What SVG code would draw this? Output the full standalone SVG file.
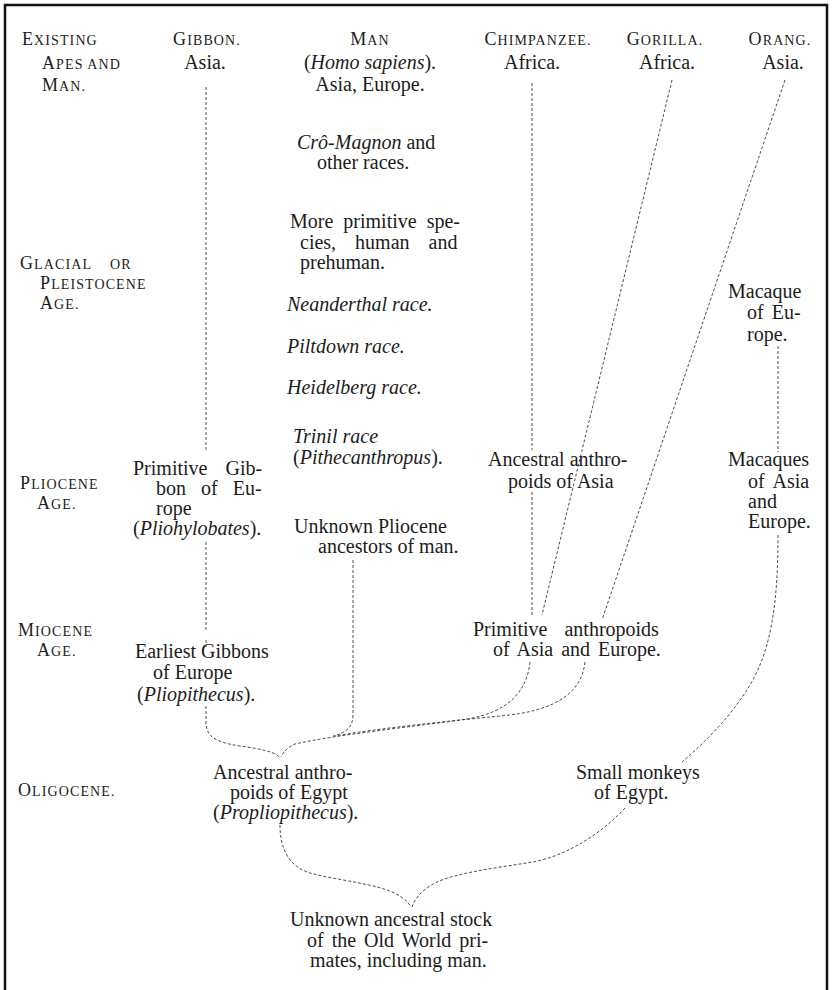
<svg xmlns="http://www.w3.org/2000/svg" width="832" height="990" viewBox="0 0 832 990">
<style>
.t{font-family:"Liberation Serif","Times New Roman",serif;font-size:20px;fill:#1c1c1c}
.i{font-style:italic}
.hd{font-family:"Liberation Serif","Times New Roman",serif;font-size:18px;letter-spacing:1.1px;fill:#1c1c1c}
.sc{font-size:14px}
.m{text-anchor:middle}
.c{fill:none;stroke:#3a3a3a;stroke-width:0.9;stroke-dasharray:3 2}
.f{fill:none;stroke:#111;stroke-width:2.5}
</style>
<rect width="832" height="990" fill="#fff"/>
<g id="frame">
<path class="f" d="M5,990 V5 H827 V990"/>
</g>
<g id="ages">
<text class="hd" x="22" y="45">E<tspan class="sc">XISTING</tspan></text>
<text class="hd" x="42" y="69">A<tspan class="sc">PES AND</tspan></text>
<text class="hd" x="42" y="91">M<tspan class="sc">AN.</tspan></text>
<text class="hd" x="20" y="269">G<tspan class="sc">LACIAL</tspan></text>
<text class="hd sc" x="110" y="269">OR</text>
<text class="hd" x="40" y="289">P<tspan class="sc">LEISTOCENE</tspan></text>
<text class="hd" x="40" y="309">A<tspan class="sc">GE.</tspan></text>
<text class="hd" x="20" y="489">P<tspan class="sc">LIOCENE</tspan></text>
<text class="hd" x="37" y="509">A<tspan class="sc">GE.</tspan></text>
<text class="hd" x="18" y="636">M<tspan class="sc">IOCENE</tspan></text>
<text class="hd" x="37" y="656">A<tspan class="sc">GE.</tspan></text>
<text class="hd" x="18" y="796">O<tspan class="sc">LIGOCENE.</tspan></text>
</g>
<g id="connectors">
<path class="c" d="M206,87 V452 M206,542 V630 M206,640 V647 M206,706 V722 C206,736 214,742 240,746 C262,749 276,752 280,758"/>
<path class="c" d="M353,560 V715 C353,728 345,733 333,736"/>
<path class="c" d="M532,83 V450 M532,492 V617"/>
<path class="c" d="M672,80 L542,615"/>
<path class="c" d="M785,80 L602,620"/>
<path class="c" d="M530,662 C527,690 510,712 467,719 C420,726 340,734 295,744 C288,747 283,752 281,757"/>
<path class="c" d="M585,662 C582,690 560,711 500,716 C450,721 380,728 335,736"/>
<path class="c" d="M778,346 V452"/>
<path class="c" d="M778,535 C778,600 772,648 750,685 C730,718 705,742 682,762"/>
<path class="c" d="M280,825 C280,848 288,866 310,873 C340,881 380,884 398,895 C405,899 409,903 411,907"/>
<path class="c" d="M625,808 C605,830 570,855 533,862 C495,868 455,873 435,883 C422,890 415,898 412,907"/>
</g>
<g id="gibbon">
<text class="hd m" x="207" y="45">G<tspan class="sc">IBBON.</tspan></text>
<text class="t m" x="205" y="69">Asia.</text>
</g>
<g id="man">
<text class="hd m" x="370" y="45">M<tspan class="sc">AN</tspan></text>
<text class="t m" x="370" y="69">(<tspan class="i">Homo sapiens</tspan>).</text>
<text class="t m" x="370" y="91">Asia, Europe.</text>
</g>
<g id="chimpanzee">
<text class="hd m" x="538" y="45">C<tspan class="sc">HIMPANZEE.</tspan></text>
<text class="t m" x="532" y="69">Africa.</text>
</g>
<g id="gorilla">
<text class="hd m" x="665" y="45">G<tspan class="sc">ORILLA.</tspan></text>
<text class="t m" x="667" y="69">Africa.</text>
</g>
<g id="orang">
<text class="hd m" x="780" y="45">O<tspan class="sc">RANG.</tspan></text>
<text class="t m" x="783" y="69">Asia.</text>
</g>
<g id="cro-magnon">
<text class="t" x="297" y="149"><tspan class="i">Crô-Magnon</tspan> and</text>
<text class="t" x="317" y="169">other races.</text>
</g>
<g id="primitive-species">
<text class="t" x="290" y="228" word-spacing="5">More primitive spe-</text>
<text class="t" x="300" y="249" word-spacing="14">cies, human and</text>
<text class="t" x="300" y="269">prehuman.</text>
</g>
<g id="neanderthal"><text class="t i" x="287" y="311">Neanderthal race.</text></g>
<g id="piltdown"><text class="t i" x="287" y="353">Piltdown race.</text></g>
<g id="heidelberg"><text class="t i" x="287" y="394">Heidelberg race.</text></g>
<g id="trinil">
<text class="t i" x="293" y="443">Trinil race</text>
<text class="t" x="293" y="464">(<tspan class="i">Pithecanthropus</tspan>).</text>
</g>
<g id="pliocene-man">
<text class="t" x="294" y="533">Unknown Pliocene</text>
<text class="t" x="318" y="553">ancestors of man.</text>
</g>
<g id="primitive-gibbon">
<text class="t" x="133" y="475" word-spacing="13">Primitive Gib-</text>
<text class="t" x="156" y="495" word-spacing="10">bon of Eu-</text>
<text class="t" x="156" y="515">rope</text>
<text class="t" x="133" y="535">(<tspan class="i">Pliohylobates</tspan>).</text>
</g>
<g id="earliest-gibbons">
<text class="t" x="135" y="658">Earliest Gibbons</text>
<text class="t" x="153" y="679">of Europe</text>
<text class="t" x="137" y="701">(<tspan class="i">Pliopithecus</tspan>).</text>
</g>
<g id="ancestral-asia">
<text class="t" x="488" y="466">Ancestral anthro-</text>
<text class="t" x="508" y="488">poids of Asia</text>
</g>
<g id="primitive-anthropoids">
<text class="t" x="473" y="636" word-spacing="12">Primitive anthropoids</text>
<text class="t" x="493" y="656" word-spacing="3">of Asia and Europe.</text>
</g>
<g id="macaque-europe">
<text class="t" x="728" y="298">Macaque</text>
<text class="t" x="747" y="319" word-spacing="3">of Eu-</text>
<text class="t" x="747" y="341">rope.</text>
</g>
<g id="macaques">
<text class="t" x="728" y="466">Macaques</text>
<text class="t" x="748" y="488" word-spacing="4">of Asia</text>
<text class="t" x="748" y="508">and</text>
<text class="t" x="748" y="528">Europe.</text>
</g>
<g id="ancestral-egypt">
<text class="t" x="213" y="779">Ancestral anthro-</text>
<text class="t" x="230" y="799">poids of Egypt</text>
<text class="t" x="213" y="819">(<tspan class="i">Propliopithecus</tspan>).</text>
</g>
<g id="small-monkeys">
<text class="t" x="576" y="779">Small monkeys</text>
<text class="t" x="594" y="799">of Egypt.</text>
</g>
<g id="ancestral-stock">
<text class="t" x="290" y="926">Unknown ancestral stock</text>
<text class="t" x="307" y="947" word-spacing="3">of the Old World pri-</text>
<text class="t" x="310" y="967">mates, including man.</text>
</g>
</svg>
